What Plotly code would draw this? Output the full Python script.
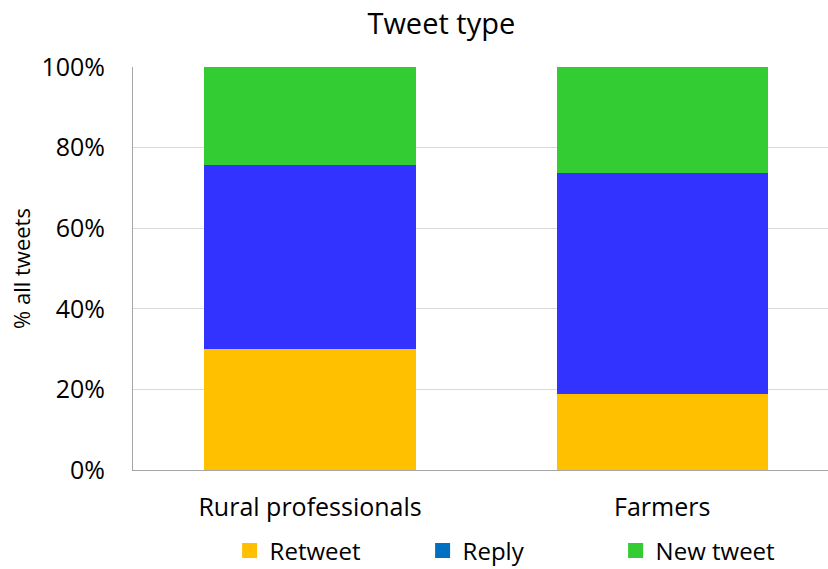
import plotly.graph_objects as go

categories = ["Rural professionals", "Farmers"]
series_names = ["Retweet", "Reply", "New tweet"]
retweet = [30.0, 18.9]
reply = [45.7, 54.8]
new_tweet = [24.3, 26.3]
bar_colors = ["#FFC000", "#3333FF", "#33CC33"]
legend_colors = ["#FFC000", "#0070C0", "#33CC33"]
y_ticks = [0, 20, 40, 60, 80, 100]
y_tick_labels = ["0%", "20%", "40%", "60%", "80%", "100%"]

FONT = "'Open Sans', sans-serif"

fig = go.Figure()
for name, vals, col in zip(series_names, [retweet, reply, new_tweet], bar_colors):
    fig.add_trace(go.Bar(x=categories, y=vals, name=name, marker_color=col,
                         marker_line_width=0, width=0.6, showlegend=False))
for name, col in zip(series_names, legend_colors):
    fig.add_trace(go.Scatter(x=[None], y=[None], mode="markers", name=name,
                             marker=dict(symbol="square", size=15, color=col)))

fig.update_layout(
    barmode="stack",
    width=828, height=569,
    margin=dict(l=133, r=0, t=67, b=99, autoexpand=False),
    paper_bgcolor="white", plot_bgcolor="white",
    font=dict(family=FONT, size=25, color="#000000"),
    title=dict(text="Tweet type", x=0.533, xanchor="center", y=0.958, yanchor="middle",
               font=dict(family=FONT, size=29, color="#000000")),
    showlegend=True,
    legend=dict(orientation="h", traceorder="normal", x=0.139, xanchor="left",
                yref="container", y=0.032, yanchor="middle",
                font=dict(family=FONT, size=24), entrywidth=148, itemwidth=30,
                bgcolor="rgba(0,0,0,0)"),
)
fig.update_xaxes(range=[-0.503, 1.471], showline=True, linecolor="#A6A6A6", linewidth=1,
                 ticks="", tickfont=dict(family=FONT, size=25), ticklabelstandoff=15)
fig.update_yaxes(range=[0, 100], tickvals=y_ticks, ticktext=y_tick_labels,
                 showgrid=True, gridcolor="#D9D9D9", gridwidth=1,
                 showline=True, linecolor="#A6A6A6", linewidth=1, zeroline=False,
                 ticks="", tickfont=dict(family=FONT, size=25), ticklabelstandoff=22,
                 title=dict(text="% all tweets", font=dict(family=FONT, size=22), standoff=4))

fig.write_html("out.html")
